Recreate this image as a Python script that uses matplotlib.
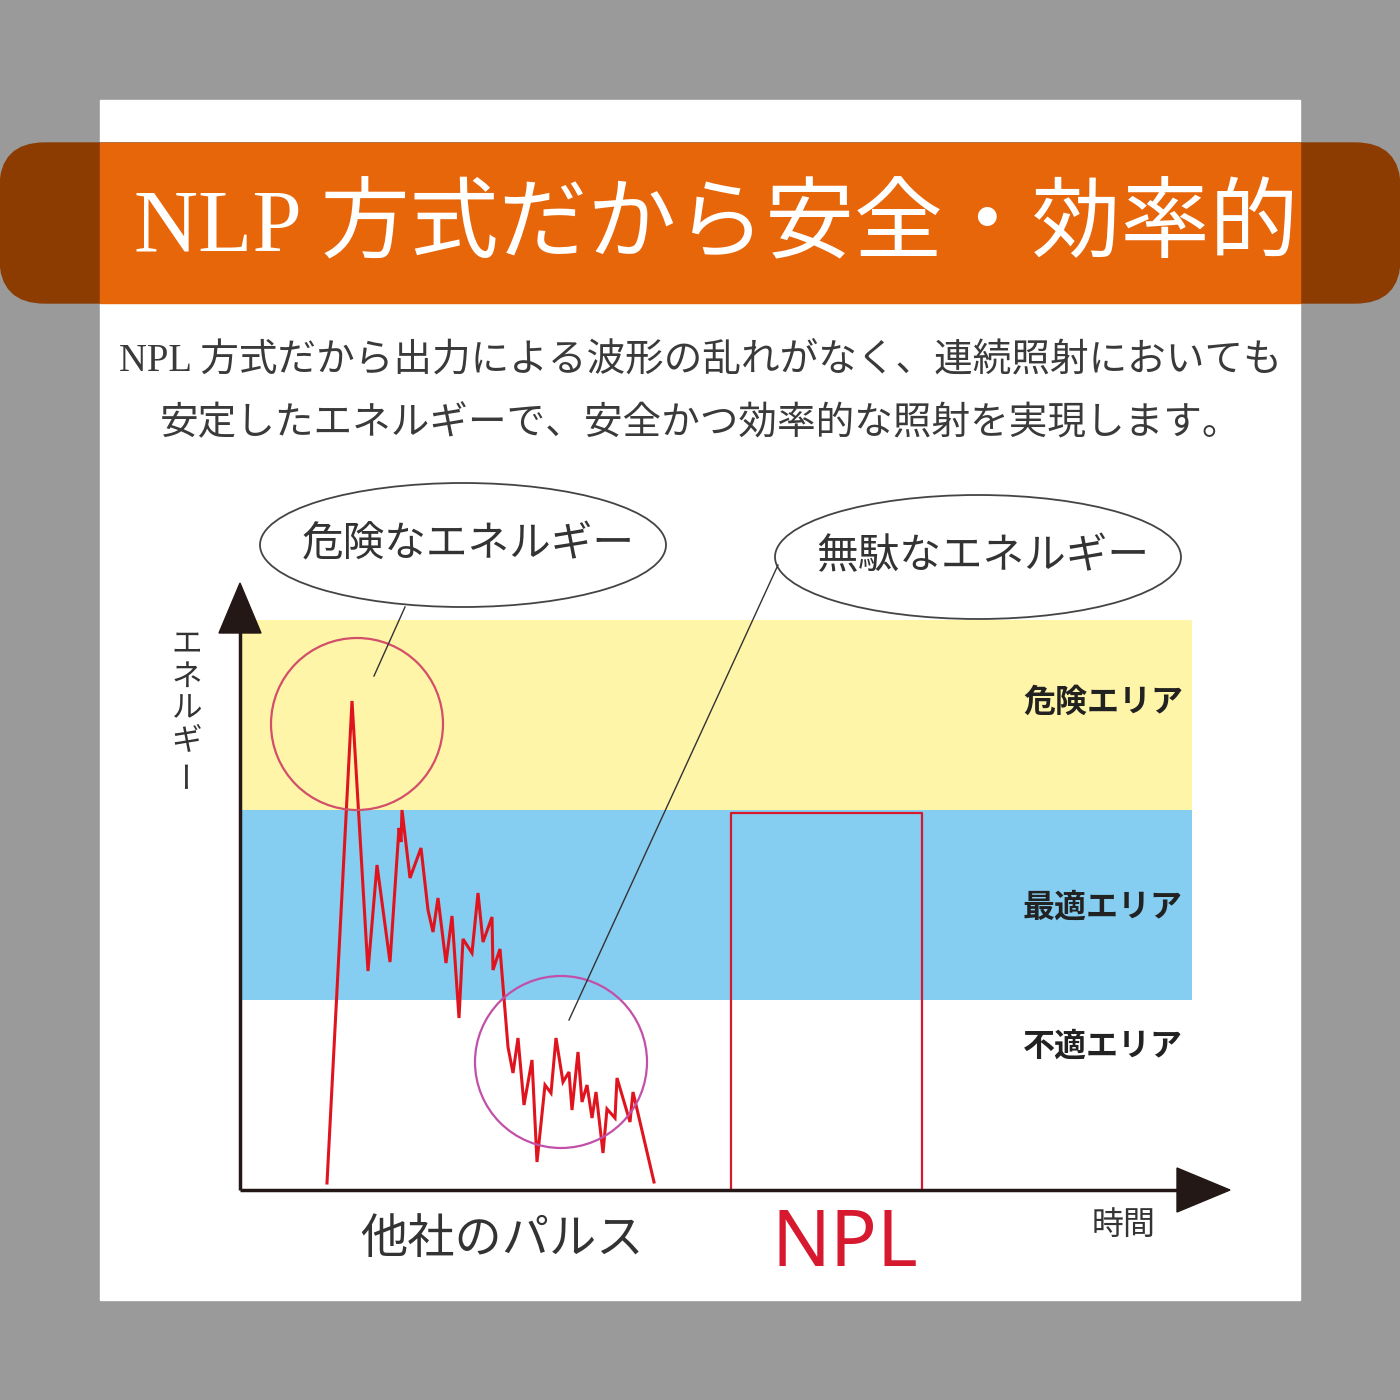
import matplotlib.pyplot as plt
from matplotlib.patches import Ellipse, Rectangle, FancyBboxPatch, Polygon

# ── Data ─────────────────────────────────────────────────────────────────────
# chart units: time t (0 = y-axis), energy e (0 = time axis)
pulse_t = [87, 112, 128, 137, 150, 159, 161, 162, 170, 181, 188, 193, 198, 206,
           212, 219, 223, 232, 238, 243, 252, 253, 260, 268, 273, 278, 284, 292,
           297, 305, 311, 316, 323, 329, 332, 338, 342, 347, 352, 356, 363, 367,
           375, 377, 390, 393, 414]
pulse_e = [7, 489, 219, 325, 228, 362, 348, 380, 312, 342, 280, 258, 292, 227,
           274, 172, 251, 237, 297, 248, 273, 220, 241, 143, 117, 152, 85, 130,
           28, 105, 97, 152, 108, 118, 80, 138, 88, 105, 72, 98, 37, 81,
           72, 112, 68, 98, 8]

npl_t = [491, 491, 682, 682]
npl_e = [0, 377, 377, 0]

zones = [("不適エリア", 0, 190, "white", 143),
         ("最適エリア", 190, 380, "#85CDF1", 282),
         ("危険エリア", 380, 570, "#FFF5A8", 487)]

title = "NLP 方式だから安全・効率的"
subtitle = ["NPL 方式だから出力による波形の乱れがなく、連続照射においても",
            "安定したエネルギーで、安全かつ効率的な照射を実現します。"]
callouts = [("危険なエネルギー", (223, 645), (165, 583), (134, 514)),
            ("無駄なエネルギー", (738, 633), (538, 625), (329, 170))]
circles = [((117, 466), "#D24F6A"), ((321, 128), "#C24FA8")]

JP = ["Noto Sans CJK JP", "DejaVu Sans"]
SERIF_JP = ["Liberation Serif", "Noto Sans CJK JP"]
DARK = "#231815"
RED = "#D7192F"

# ── Page ──────────────────────────────────────────────────────────────────────
fig = plt.figure(figsize=(14, 14), dpi=100)
fig.patch.set_facecolor("#9A9A9A")

bg = fig.add_axes([0, 0, 1, 1])
bg.set_xlim(0, 1400)
bg.set_ylim(1400, 0)
bg.axis("off")

bg.add_patch(Rectangle((100, 100), 1200, 1200, color="white", zorder=1))
bg.add_patch(FancyBboxPatch((0, 143), 1400, 160,
                            boxstyle="round,pad=0,rounding_size=45",
                            color="#8C3C00", zorder=2))
bg.add_patch(Rectangle((100, 143), 1200, 160, color="#E8660A", zorder=3))
bg.text(716, 229, title, color="white", fontsize=64, ha="center", va="center",
        family=SERIF_JP, zorder=4)
bg.text(700, 361, subtitle[0], color="#3A3A3A", fontsize=27.8, ha="center",
        va="center", family=SERIF_JP, zorder=4)
bg.text(701, 425, subtitle[1], color="#3A3A3A", fontsize=27.8, ha="center",
        va="center", family=SERIF_JP, zorder=4)

# ── Chart ─────────────────────────────────────────────────────────────────────
ax = fig.add_axes([240 / 1400, 210 / 1400, 952 / 1400, 570 / 1400])
ax.set_xlim(0, 952)
ax.set_ylim(0, 570)
ax.patch.set_alpha(0)
ax.axis("off")

for name, lo, hi, col, ly in zones:
    ax.axhspan(lo, hi, color=col, zorder=1, lw=0)
    ax.text(943, ly, name, ha="right", va="center", fontsize=23,
            fontweight="bold", color="#222222", family=JP, zorder=5)

ax.plot(pulse_t, pulse_e, color="#E0141E", lw=2.2, zorder=4,
        solid_joinstyle="miter")
ax.plot(npl_t, npl_e, color=RED, lw=1.6, zorder=4)

for (cx, cy), col in circles:
    ax.add_patch(Ellipse((cx, cy), 172, 172, fill=False, ec=col, lw=1.6,
                         zorder=5, clip_on=False))

for label, (cx, cy), p0, p1 in callouts:
    ax.add_patch(Ellipse((cx, cy), 406, 124, fill=False, ec="#444444",
                         lw=1.3, zorder=5, clip_on=False))
    ax.plot([p0[0], p1[0]], [p0[1], p1[1]], color="#333333", lw=1.0,
            zorder=5, clip_on=False)
    ax.text(cx + 5, cy, label, ha="center", va="center", fontsize=30,
            color="#333333", family=JP, zorder=6, clip_on=False)

# axes with arrow heads
ax.plot([0, 0], [0, 560], color=DARK, lw=2.5, zorder=6, clip_on=False,
        solid_capstyle="butt")
ax.plot([0, 945], [0, 0], color=DARK, lw=2.5, zorder=6, clip_on=False,
        solid_capstyle="butt")
ax.add_patch(Polygon([(-21, 557), (21, 557), (0, 607)], closed=True,
                     color=DARK, zorder=7, clip_on=False))
ax.add_patch(Polygon([(937, 22), (937, -22), (990, 0)], closed=True,
                     color=DARK, zorder=7, clip_on=False))

ax.text(262, -50, "他社のパルス", ha="center", va="center", fontsize=34,
        color="#333333", family=JP, clip_on=False)
ax.text(605, -55, "NPL", ha="center", va="center", fontsize=56,
        color=RED, family=["Noto Sans"], clip_on=False)
ax.text(884, -35, "時間", ha="center", va="center", fontsize=23,
        color="#333333", family=JP, clip_on=False)

# vertical axis label, stacked characters
for i, ch in enumerate("エネルギー"):
    ax.text(-53, 545 - i * 32, ch, ha="center", va="center", fontsize=22,
            color="#333333", family=JP, rotation=90 if ch == "ー" else 0,
            clip_on=False)

fig.savefig("out.png", dpi=100, facecolor=fig.get_facecolor())
